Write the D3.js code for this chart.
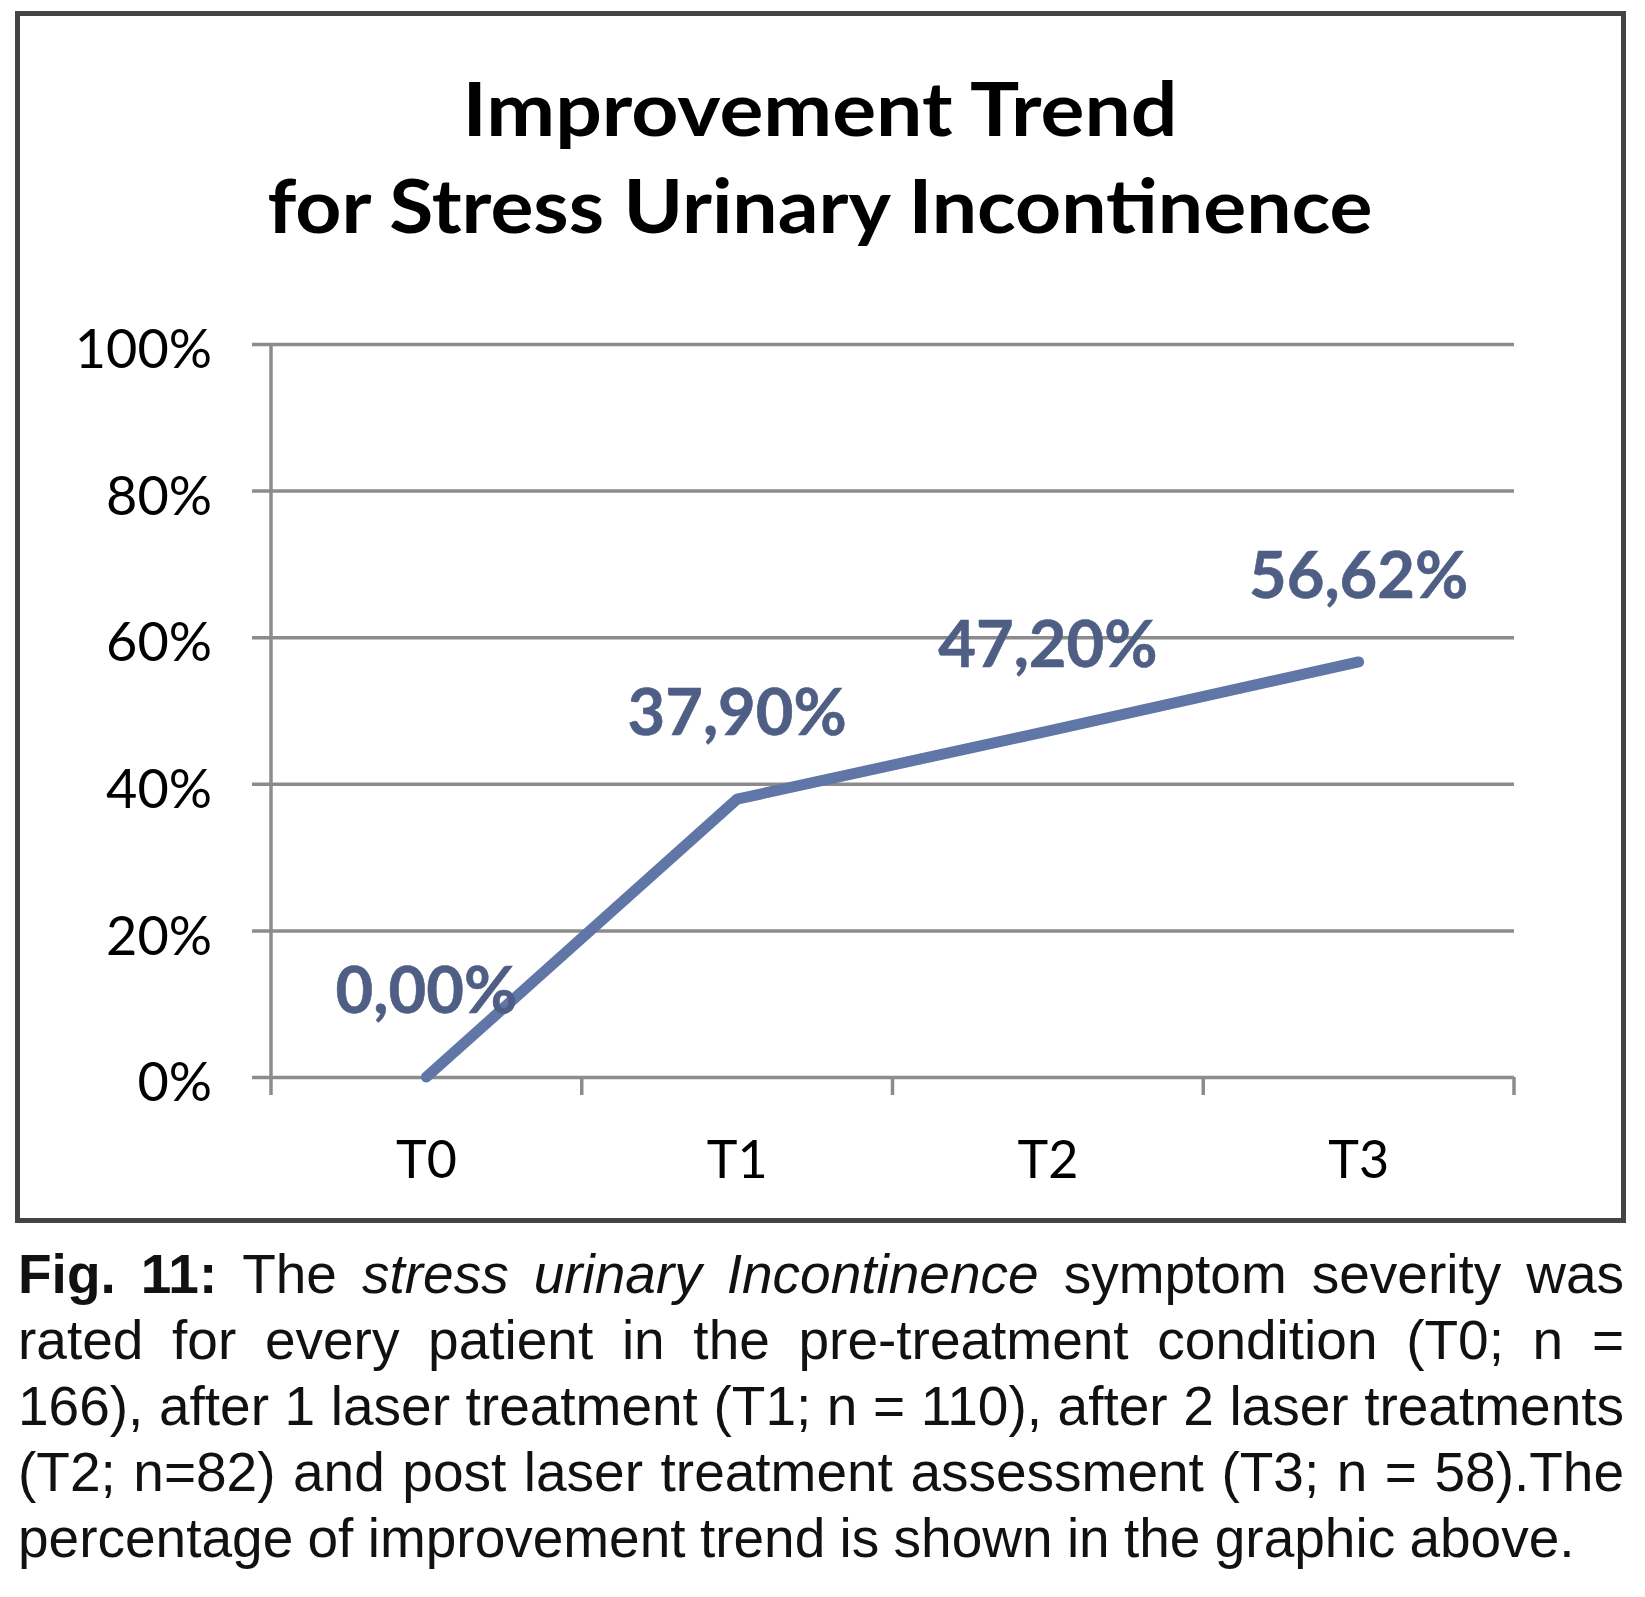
<!DOCTYPE html>
<html>
<head>
<meta charset="utf-8">
<script src="https://cdn.jsdelivr.net/npm/d3@7"></script>
<style>
  body { margin: 0; background: #fff; }
  svg { display: block; }
</style>
</head>
<body>
<div id="chart"></div>
<script>
// chart values
var categories = ["T0", "T1", "T2", "T3"];
var values = [0, 37.90, 47.20, 56.62];
var yTicks = [0, 20, 40, 60, 80, 100];
var titleLines = ["Improvement Trend", "for Stress Urinary Incontinence"];

// caption, one array per printed line: [text, style]
var captionLines = [
  [["Fig. 11:", "b"], ["The", "n"], ["stress urinary Incontinence", "i"], ["symptom severity was", "n"]],
  [["rated for every patient in the pre-treatment condition (T0; n =", "n"]],
  [["166), after 1 laser treatment (T1; n = 110), after 2 laser treatments", "n"]],
  [["(T2; n=82) and post laser treatment assessment (T3; n = 58).The", "n"]],
  [["percentage of improvement trend is shown in the graphic above.", "n"]]
];

let width = 1645;
let height = 1597;

let svg = d3.select('#chart')
  .append('svg')
  .attr('width', width)
  .attr('height', height);

/** frame round the chart */
svg.append('rect')
  .attr('x', 17.5).attr('y', 13.5)
  .attr('width', 1606).attr('height', 1207)
  .attr('fill', 'none')
  .attr('stroke', '#444')
  .attr('stroke-width', 5);

/** title */
let titleY = [136, 233];
let titleW = [715, 1105];
svg.selectAll('.title')
  .data(titleLines)
  .enter()
  .append('text')
  .attr('class', 'title')
  .attr('x', 820)
  .attr('y', (d, i) => titleY[i])
  .attr('text-anchor', 'middle')
  .attr('font-family', 'Lato, "Open Sans", sans-serif')
  .attr('font-weight', 'bold')
  .attr('font-size', 74)
  .attr('textLength', (d, i) => titleW[i])
  .attr('lengthAdjust', 'spacingAndGlyphs')
  .attr('fill', '#000')
  .text(d => d);

/** scales */
let plotL = 271, plotR = 1514, plotT = 344, plotB = 1077;
let x = d3.scaleBand().domain(categories).range([plotL, plotR]);
let y = d3.scaleLinear().domain([0, 100]).range([plotB, plotT]);
let cx = c => x(c) + x.bandwidth() / 2;

let grey = '#8c8c8c';

// y axis with gridlines
let yAxis = svg.append('g')
  .attr('transform', 'translate(252,0)')
  .call(d3.axisLeft(y).tickValues(yTicks).tickSize(-(plotR - 252)).tickPadding(40).tickFormat(d => d + '%'));
yAxis.select('.domain').remove();
yAxis.selectAll('line').attr('stroke', grey).attr('stroke-width', 3.5);
yAxis.selectAll('text')
  .attr('font-family', 'Lato, "Open Sans", sans-serif')
  .attr('font-size', 54)
  .attr('fill', '#000')
  .attr('dy', '0.44em');

// vertical axis line
svg.append('line')
  .attr('x1', plotL).attr('x2', plotL)
  .attr('y1', plotT).attr('y2', plotB + 18)
  .attr('stroke', grey).attr('stroke-width', 3.5);

// category boundary ticks
let edges = categories.map(c => x(c)).concat([plotR]);
svg.selectAll('.xtick')
  .data(edges.slice(1))
  .enter()
  .append('line')
  .attr('class', 'xtick')
  .attr('x1', d => d).attr('x2', d => d)
  .attr('y1', plotB).attr('y2', plotB + 18)
  .attr('stroke', grey).attr('stroke-width', 3.5);

// x labels
let xAxis = svg.append('g')
  .attr('transform', `translate(0,${plotB})`)
  .call(d3.axisBottom(x).tickSize(0).tickPadding(0));
xAxis.select('.domain').remove();
xAxis.selectAll('text')
  .attr('font-family', 'Lato, "Open Sans", sans-serif')
  .attr('font-size', 52)
  .attr('fill', '#000')
  .attr('dy', null)
  .attr('y', 101);

/** the trend line */
let line = d3.line()
  .x((d, i) => cx(categories[i]))
  .y(d => y(d));

svg.append('path')
  .datum(values)
  .attr('d', line)
  .attr('fill', 'none')
  .attr('stroke', '#5f76a6')
  .attr('stroke-width', 11)
  .attr('stroke-linecap', 'round')
  .attr('stroke-linejoin', 'round');

// value labels with comma decimals
let fmt = d3.formatLocale({ decimal: ",", thousands: ".", grouping: [3], currency: ["", ""] }).format(".2f");
svg.selectAll('.vlabel')
  .data(values)
  .enter()
  .append('text')
  .attr('class', 'vlabel')
  .attr('x', (d, i) => cx(categories[i]))
  .attr('y', d => y(d) - 64)
  .attr('text-anchor', 'middle')
  .attr('font-family', 'Lato, "Open Sans", sans-serif')
  .attr('font-weight', 'bold')
  .attr('font-size', 65)
  .attr('fill', '#4f5e84')
  .attr('stroke', '#4f5e84')
  .attr('stroke-width', 0.6)
  .text(d => fmt(d) + '%');

/** caption, justified */
let capLeft = 18, capRight = 1624, capSize = 55;
let capY = [1293, 1359, 1425, 1491, 1557];

captionLines.forEach((segs, li) => {
  let g = svg.append('g');
  // break into words keeping style
  let words = [];
  segs.forEach(s => s[0].split(' ').forEach(w => words.push([w, s[1]])));
  let nodes = words.map(w => {
    let t = g.append('text')
      .attr('y', capY[li])
      .attr('font-family', '"Liberation Sans", Arial, sans-serif')
      .attr('font-size', capSize)
      .attr('fill', '#111')
      .attr('font-weight', w[1] == 'b' ? 'bold' : 'normal')
      .attr('font-style', w[1] == 'i' ? 'italic' : 'normal')
      .text(w[0]);
    return t;
  });
  let widths = nodes.map(n => n.node().getComputedTextLength());
  let total = d3.sum(widths);
  let last = li == captionLines.length - 1;
  let gap = last ? capSize * 0.26 : (capRight - capLeft - total) / (words.length - 1);
  let scale = 1;
  if (gap < capSize * 0.2) {
    gap = capSize * 0.2;
    scale = (capRight - capLeft) / (total + gap * (words.length - 1));
  }
  let pos = 0;
  nodes.forEach((n, i) => {
    n.attr('x', pos);
    pos += widths[i] + gap;
  });
  g.attr('transform', `translate(${capLeft},0) scale(${scale},1)`);
});
</script>
</body>
</html>
